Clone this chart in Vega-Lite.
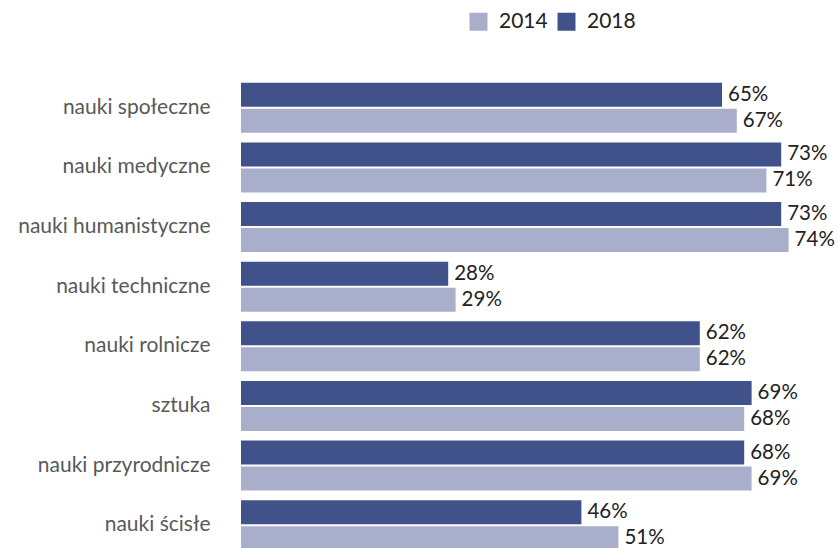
{
  "$schema": "https://vega.github.io/schema/vega-lite/v6.json",
  "width": 592,
  "height": 477,
  "autosize": {"type": "none"},
  "padding": {"left": 241, "top": 78, "right": 5, "bottom": 0},
  "background": "white",
  "config": {"view": {"stroke": null}, "font": "Lato"},
  "data": {"values": [
    {"cat": "nauki społeczne", "year": "2018", "v": 0.65},
    {"cat": "nauki społeczne", "year": "2014", "v": 0.67},
    {"cat": "nauki medyczne", "year": "2018", "v": 0.73},
    {"cat": "nauki medyczne", "year": "2014", "v": 0.71},
    {"cat": "nauki humanistyczne", "year": "2018", "v": 0.73},
    {"cat": "nauki humanistyczne", "year": "2014", "v": 0.74},
    {"cat": "nauki techniczne", "year": "2018", "v": 0.28},
    {"cat": "nauki techniczne", "year": "2014", "v": 0.29},
    {"cat": "nauki rolnicze", "year": "2018", "v": 0.62},
    {"cat": "nauki rolnicze", "year": "2014", "v": 0.62},
    {"cat": "sztuka", "year": "2018", "v": 0.69},
    {"cat": "sztuka", "year": "2014", "v": 0.68},
    {"cat": "nauki przyrodnicze", "year": "2018", "v": 0.68},
    {"cat": "nauki przyrodnicze", "year": "2014", "v": 0.69},
    {"cat": "nauki ścisłe", "year": "2018", "v": 0.46},
    {"cat": "nauki ścisłe", "year": "2014", "v": 0.51}
  ]},
  "encoding": {
    "y": {"field": "cat", "type": "nominal", "sort": null,
      "scale": {"paddingInner": 0.16, "paddingOuter": 0.08},
      "axis": {"title": null, "domain": false, "ticks": false, "labelFontSize": 21, "labelColor": "#595959", "labelPadding": 31, "labelFont": "Lato", "labelLimit": 300}},
    "yOffset": {"field": "year", "type": "nominal", "sort": ["2018", "2014"], "scale": {"paddingInner": 0.08}},
    "x": {"field": "v", "type": "quantitative", "scale": {"domain": [0, 0.8], "nice": false}, "axis": null}
  },
  "layer": [
    {
      "mark": {"type": "bar"},
      "encoding": {
        "color": {"field": "year", "type": "nominal",
          "scale": {"domain": ["2014", "2018"], "range": ["#A9AFCB", "#41528A"]},
          "legend": {"title": null, "orient": "none", "direction": "horizontal", "legendX": 227, "legendY": -67,
            "symbolType": "square", "symbolSize": 324, "symbolStrokeWidth": 0, "labelFontSize": 21, "labelColor": "#222222", "columnPadding": 8, "labelOffset": 10}}
      }
    },
    {
      "mark": {"type": "text", "align": "left", "dx": 6, "fontSize": 20.5, "color": "#222222", "baseline": "middle"},
      "encoding": {"text": {"field": "v", "type": "quantitative", "format": ".0%"}}
    }
  ]
}
